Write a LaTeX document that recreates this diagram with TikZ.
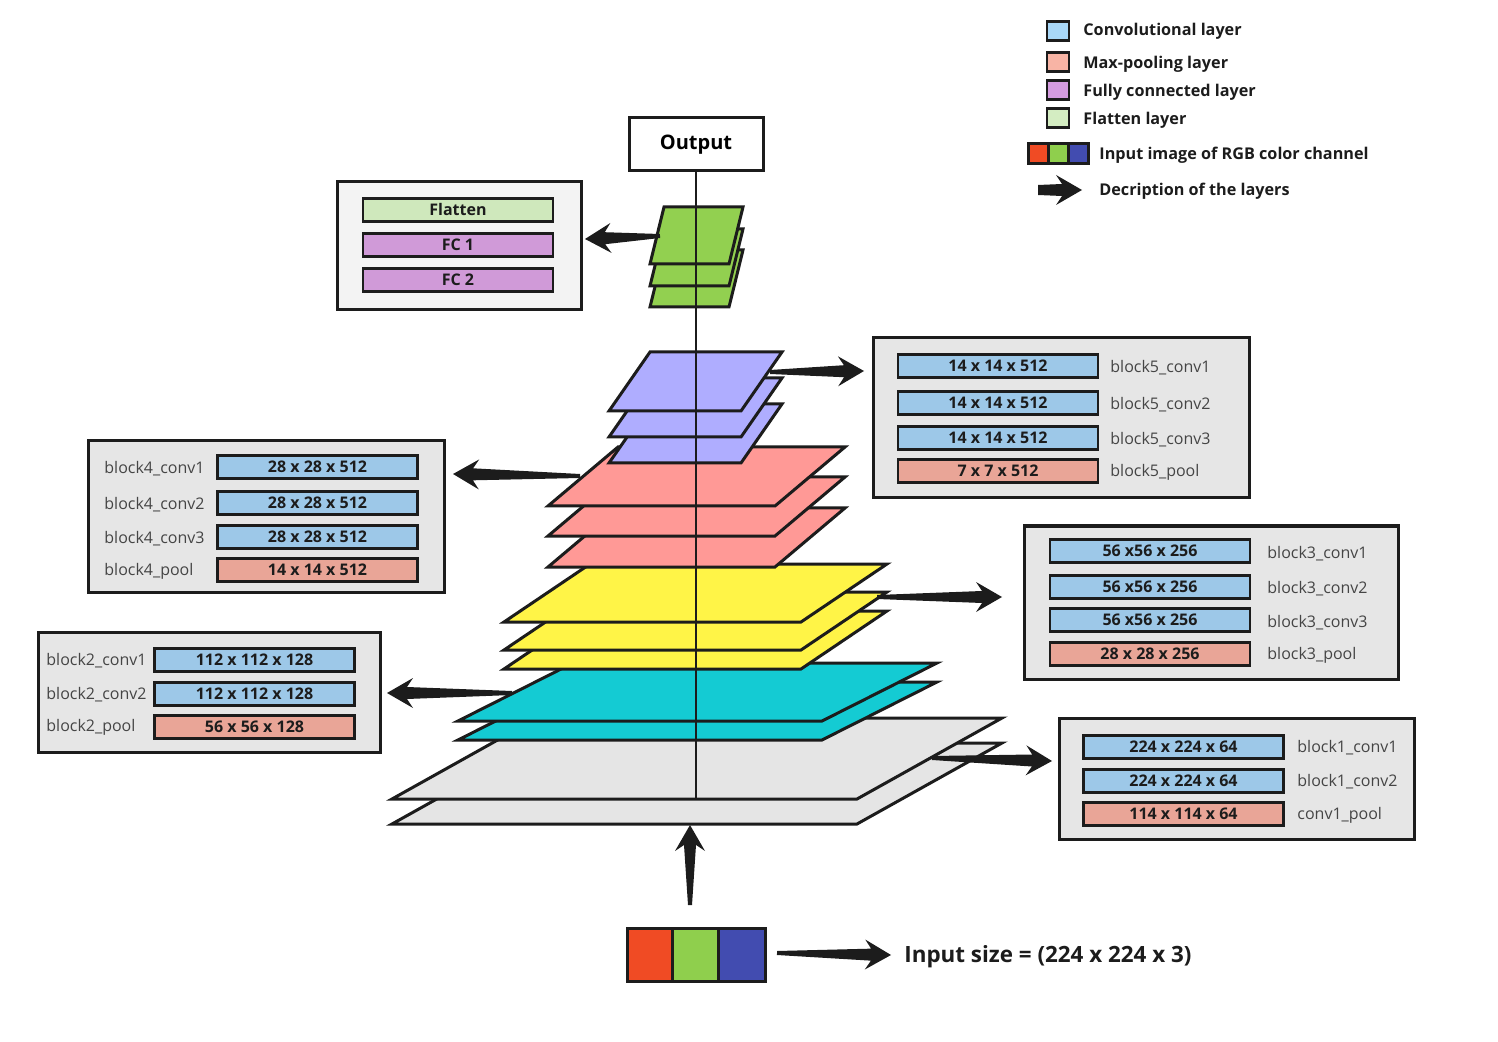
\documentclass[tikz,border=0pt]{standalone}
\usepackage{fontspec}
\setmainfont{Open Sans}
\usetikzlibrary{calc}
\definecolor{ink}{HTML}{1C1C1C}
\definecolor{lgreen}{HTML}{92D050}
\definecolor{lpurple}{HTML}{AFADFF}
\definecolor{lpink}{HTML}{FF9996}
\definecolor{lyellow}{HTML}{FFF447}
\definecolor{lcyan}{HTML}{14CBD3}
\definecolor{lgray}{HTML}{E5E5E5}
\definecolor{panelgray}{HTML}{E6E6E6}
\definecolor{panellight}{HTML}{F3F3F3}
\definecolor{convblue}{HTML}{9DC8E8}
\definecolor{poolsalmon}{HTML}{E9A597}
\definecolor{flatgreen}{HTML}{CFE8BC}
\definecolor{fcpurple}{HTML}{D09AD8}
\definecolor{legblue}{HTML}{A9D8F8}
\definecolor{legsalmon}{HTML}{F8B4A5}
\definecolor{legpurple}{HTML}{D59CE0}
\definecolor{leggreen}{HTML}{D4EDC2}
\definecolor{rgbred}{HTML}{F04B24}
\definecolor{rgbgreen}{HTML}{8FCF4D}
\definecolor{rgbblue}{HTML}{424CB0}
\definecolor{lblgray}{HTML}{454545}
\newcommand\barfont{\fontsize{8}{9}\selectfont\bfseries}
\newcommand\lblfont{\fontsize{8}{9}\selectfont}
\newcommand\legfont{\fontsize{8.1}{10}\selectfont\bfseries}
\newcommand\layer[6]{\filldraw[layer,fill=#1] (#2,#3) -- ++(#4,0) -- ++(-#5,#6) -- ++(-#4,0) -- cycle;}
\newcommand\descarrow[3][1pt]{%
  \fill[ink] ($(#2)!#1!90:(#3)$)
    -- ($($(#3)!10pt!(#2)$)!3pt!90:(#3)$)
    -- ($($(#3)!13pt!(#2)$)!7.5pt!90:(#3)$)
    -- (#3)
    -- ($($(#3)!13pt!(#2)$)!7.5pt!-90:(#3)$)
    -- ($($(#3)!10pt!(#2)$)!3pt!-90:(#3)$)
    -- ($(#2)!#1!-90:(#3)$) -- cycle;}
\begin{document}
\begin{tikzpicture}[x=0.5pt,y=-0.5pt,
  layer/.style={draw=ink, line width=1.5pt, line join=miter},
  panel/.style={draw=ink, line width=1.5pt, fill=panelgray, inner sep=0pt},
  bar/.style={draw=ink, line width=1.4pt, minimum width=100pt, minimum height=11.5pt, inner sep=0pt, font=\barfont, text=ink},
  conv/.style={bar, fill=convblue},
  pool/.style={bar, fill=poolsalmon},
  lbl/.style={anchor=west, font=\lblfont, text=lblgray, inner sep=0pt, yshift=-0.8pt},
  legsq/.style={draw=ink, line width=1.4pt, minimum width=11pt, minimum height=9.5pt, inner sep=0pt},
  legtxt/.style={anchor=west, font=\legfont, text=ink, inner sep=0pt, yshift=-0.8pt},
  cell/.style={draw=ink, line width=1.5pt, inner sep=0pt}]
\useasboundingbox (0,0) rectangle (1498,1042);

% ---------- layer stack ----------
\layer{lgray}{537}{743}{465}{145}{81}
\layer{lgray}{537}{718}{465}{145}{81}
\layer{lcyan}{573}{682}{364}{115}{58}
\layer{lcyan}{573}{663}{364}{115}{58}
\layer{lyellow}{590}{611}{297}{86}{58}
\layer{lyellow}{590}{592}{297}{86}{58}
\layer{lyellow}{590}{564}{297}{86}{58}
\layer{lpink}{618}{508}{227}{70}{59}
\layer{lpink}{618}{477}{227}{70}{59}
\layer{lpink}{618}{447}{227}{70}{59}
\layer{lpurple}{650}{404}{132}{41}{59}
\layer{lpurple}{650}{378}{132}{41}{59}
\layer{lpurple}{650}{352}{132}{41}{59}
\layer{lgreen}{664}{250}{79}{14}{57}
\layer{lgreen}{664}{229}{79}{14}{57}
\layer{lgreen}{664}{207}{79}{14}{57}

% ---------- output ----------
\node[draw=ink, line width=1.5pt, fill=white, minimum width=67pt, minimum height=26.5pt, inner sep=0pt,
      font=\fontsize{10}{12}\selectfont\bfseries] (out) at (696,144.5) {Output};
\coordinate (stackbase) at (696,799);
\draw[ink, line width=0.8pt] (out.south) -- (stackbase);

% ---------- flatten / FC panel ----------
\node[panel, fill=panellight, minimum width=122pt, minimum height=64pt] (fcbox) at (459,246) {};
\node[bar, fill=flatgreen, minimum width=95pt] (flat) at (458,210) {Flatten};
\node[bar, fill=fcpurple, minimum width=95pt] (fc1) at (458,245) {FC 1};
\node[bar, fill=fcpurple, minimum width=95pt] (fc2) at (458,280) {FC 2};

% ---------- block5 ----------
\node[panel, minimum width=188pt, minimum height=80pt] (b5) at (1061,418) {};
\node[conv] (b5c1) at (998,366) {14 x 14 x 512};
\node[conv] (b5c2) at (998,403) {14 x 14 x 512};
\node[conv] (b5c3) at (998,438) {14 x 14 x 512};
\node[pool] (b5p) at (998,471) {7 x 7 x 512};
\node[lbl] (b5l1) at (1110,366) {block5\_conv1};
\node[lbl] (b5l2) at (1110,403) {block5\_conv2};
\node[lbl] (b5l3) at (1110,438) {block5\_conv3};
\node[lbl] (b5l4) at (1110,471) {block5\_pool};

% ---------- block4 ----------
\node[panel, minimum width=178pt, minimum height=75.5pt] (b4) at (266,516.5) {};
\node[conv] (b4c1) at (317.5,467) {28 x 28 x 512};
\node[conv] (b4c2) at (317.5,503) {28 x 28 x 512};
\node[conv] (b4c3) at (317.5,537) {28 x 28 x 512};
\node[pool] (b4p) at (317.5,570) {14 x 14 x 512};
\node[lbl] (b4l1) at (104,467) {block4\_conv1};
\node[lbl] (b4l2) at (104,503) {block4\_conv2};
\node[lbl] (b4l3) at (104,537) {block4\_conv3};
\node[lbl] (b4l4) at (104,570) {block4\_pool};

% ---------- block3 ----------
\node[panel, minimum width=187pt, minimum height=76.5pt] (b3) at (1211,602.5) {};
\node[conv] (b3c1) at (1150,551) {56 x56 x 256};
\node[conv] (b3c2) at (1150,587) {56 x56 x 256};
\node[conv] (b3c3) at (1150,620) {56 x56 x 256};
\node[pool] (b3p) at (1150,654) {28 x 28 x 256};
\node[lbl] (b3l1) at (1267,552) {block3\_conv1};
\node[lbl] (b3l2) at (1267,587) {block3\_conv2};
\node[lbl] (b3l3) at (1267,621) {block3\_conv3};
\node[lbl] (b3l4) at (1267,654) {block3\_pool};

% ---------- block2 ----------
\node[panel, minimum width=171pt, minimum height=60pt] (b2) at (209,692) {};
\node[conv] (b2c1) at (254.5,660) {112 x 112 x 128};
\node[conv] (b2c2) at (254.5,694) {112 x 112 x 128};
\node[pool] (b2p) at (254.5,727) {56 x 56 x 128};
\node[lbl] (b2l1) at (46,659) {block2\_conv1};
\node[lbl] (b2l2) at (46,693) {block2\_conv2};
\node[lbl] (b2l3) at (46,726) {block2\_pool};

% ---------- block1 ----------
\node[panel, minimum width=177.5pt, minimum height=60.5pt] (b1) at (1236.5,778.5) {};
\node[conv] (b1c1) at (1183.5,747) {224 x 224 x 64};
\node[conv] (b1c2) at (1183.5,781) {224 x 224 x 64};
\node[pool] (b1p) at (1183.5,814) {114 x 114 x 64};
\node[lbl] (b1l1) at (1297,746) {block1\_conv1};
\node[lbl] (b1l2) at (1297,780) {block1\_conv2};
\node[lbl] (b1l3) at (1297,814) {conv1\_pool};

% ---------- input ----------
\node[cell, fill=rgbred, minimum width=22.5pt, minimum height=26.5pt] (inr) at (649.5,954.5) {};
\node[cell, fill=rgbgreen, minimum width=23pt, minimum height=26.5pt] (ing) at (695,954.5) {};
\node[cell, fill=rgbblue, minimum width=23.5pt, minimum height=26.5pt] (inb) at (741.5,954.5) {};
\node[anchor=west, inner sep=0pt, yshift=-1pt, font=\fontsize{11.2}{13}\selectfont\bfseries, text=ink] (insize) at (904,955) {Input size = (224 x 224 x 3)};

% ---------- description arrows ----------
\coordinate (tg) at (660,236);   \coordinate (hg) at (585,239);
\coordinate (tp) at (770,372);   \coordinate (hp) at (864,371);
\coordinate (tk) at (580,476);   \coordinate (hk) at (453,474);
\coordinate (ty) at (877,597);   \coordinate (hy) at (1002,597);
\coordinate (tc) at (512,693);   \coordinate (hc) at (387,693);
\coordinate (tgr) at (932,758);  \coordinate (hgr) at (1052,761);
\coordinate (tup) at (690,905);  \coordinate (hup) at (690,825);
\coordinate (tin) at (777,953);  \coordinate (hin) at (891,955);
\descarrow{tg}{hg}
\descarrow{tp}{hp}
\descarrow{tk}{hk}
\descarrow{ty}{hy}
\descarrow{tc}{hc}
\descarrow{tgr}{hgr}
\descarrow{tup}{hup}
\descarrow{tin}{hin}

% ---------- legend ----------
\node[legsq, fill=legblue] (lg1) at (1058,31) {};
\node[legsq, fill=legsalmon] (lg2) at (1058,62) {};
\node[legsq, fill=legpurple] (lg3) at (1058,90) {};
\node[legsq, fill=leggreen] (lg4) at (1058,118) {};
\node[legtxt] (lt1) at (1083,30) {Convolutional layer};
\node[legtxt] (lt2) at (1083,63) {Max-pooling layer};
\node[legtxt] (lt3) at (1083,91) {Fully connected layer};
\node[legtxt] (lt4) at (1083,119) {Flatten layer};
\node[cell, fill=rgbred, minimum width=10pt, minimum height=10pt] (lr) at (1038,154) {};
\node[cell, fill=rgbgreen, minimum width=10pt, minimum height=10pt] (lgn) at (1058,154) {};
\node[cell, fill=rgbblue, minimum width=10pt, minimum height=10pt] (lb) at (1078,154) {};
\node[legtxt] (lt5) at (1099,154) {Input image of RGB color channel};
\coordinate (tleg) at (1038,190); \coordinate (hleg) at (1082,190);
\descarrow[2.5pt]{tleg}{hleg}
\node[legtxt] (lt6) at (1099,190) {Decription of the layers};
\end{tikzpicture}
\end{document}
